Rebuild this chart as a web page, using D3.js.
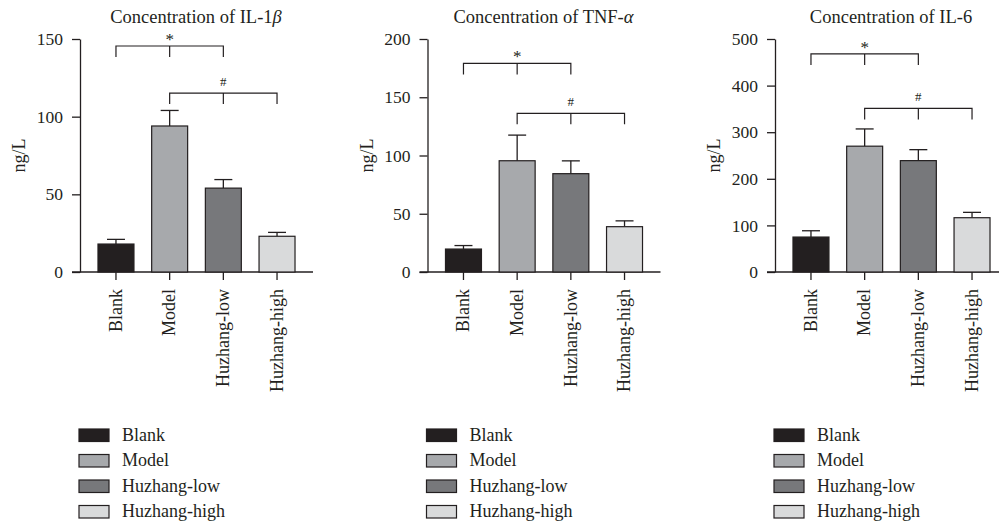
<!DOCTYPE html>
<html>
<head>
<meta charset="utf-8">
<script src="https://cdn.jsdelivr.net/npm/d3@7"></script>
<style>
  body { margin: 0; background: #fff; }
  svg text { font-family: "Liberation Serif", "DejaVu Serif", serif; fill: #231f20; }
</style>
</head>
<body>
<div id="chart"></div>
<script>
// groups and their fills
const groups = ["Blank", "Model", "Huzhang-low", "Huzhang-high"];
const fills = ["#231f20", "#a7a9ac", "#77787b", "#d9dadb"];

// IL-1beta
const il1bMean = [18, 94, 54, 23];
const il1bSd = [3, 10, 5.5, 2.5];
const il1bTicks = [0, 50, 100, 150];

// TNF-alpha
const tnfMean = [19.7, 95.5, 84.4, 38.9];
const tnfSd = [3, 22, 11, 5];
const tnfTicks = [0, 50, 100, 150, 200];

// IL-6
const il6Mean = [75, 270, 239, 116.5];
const il6Sd = [13.5, 37, 23.5, 11.5];
const il6Ticks = [0, 100, 200, 300, 400, 500];

// significance brackets: [from group, to group, level, mark]
const il1bSig = [[0, 2, 145.5, "*"], [1, 3, 115.2, "#"]];
const tnfSig = [[0, 2, 179, "*"], [1, 3, 136.2, "#"]];
const il6Sig = [[0, 2, 468, "*"], [1, 3, 351, "#"]];

const ink = "#231f20";

const svg = d3.select("#chart").append("svg")
    .attr("width", 999)
    .attr("height", 525);

/*
    Draws one bar panel with its axes, brackets and legend
*/
function drawPanel(left, title, mean, sd, ticks, sig) {
    const top = 39, bottom = 272;
    const g = svg.append("g").attr("transform", `translate(${left},0)`);

    const x = d3.scaleBand()
        .domain(groups)
        .range([0, 233])
        .paddingInner(0.33)
        .paddingOuter(0.335);

    const y = d3.scaleLinear()
        .domain([0, ticks[ticks.length - 1]])
        .range([bottom, top]);

    // title
    const t = g.append("text")
        .attr("x", 116)
        .attr("y", 23)
        .attr("text-anchor", "middle")
        .style("font-size", "18.5px")
        .text(title[0]);
    if (title[1]) {
        t.append("tspan").style("font-style", "italic").text(title[1]);
    }

    // y axis
    const yAxis = g.append("g")
        .call(d3.axisLeft(y).tickValues(ticks).tickSize(8).tickPadding(9).tickSizeOuter(0));
    yAxis.select(".domain").attr("stroke", ink).attr("stroke-width", 1.3);
    yAxis.selectAll(".tick line").attr("stroke", ink).attr("stroke-width", 1.3);
    yAxis.selectAll(".tick text")
        .style("font-size", "17.5px")
        .style("font-family", "Liberation Serif")
        .attr("fill", ink);

    g.append("text")
        .attr("transform", `translate(-60,${(top + bottom) / 2}) rotate(-90)`)
        .attr("text-anchor", "middle")
        .attr("dy", "0.3em")
        .style("font-size", "18px")
        .text("ng/L");

    // x axis
    const xAxis = g.append("g")
        .attr("transform", `translate(0,${bottom})`)
        .call(d3.axisBottom(x).tickSize(8).tickSizeOuter(0));
    xAxis.select(".domain").remove();
    xAxis.append("line")
        .attr("x1", -8).attr("x2", 233)
        .attr("stroke", ink).attr("stroke-width", 1.3);
    xAxis.selectAll(".tick line").attr("stroke", ink).attr("stroke-width", 1.3);
    xAxis.selectAll(".tick text")
        .attr("transform", "rotate(-90)")
        .attr("text-anchor", "end")
        .attr("x", -17)
        .attr("y", 0)
        .attr("dy", "0.32em")
        .style("font-size", "18px")
        .style("font-family", "Liberation Serif")
        .attr("fill", ink);

    // error bars
    const bw = x.bandwidth();
    const err = g.selectAll(".err")
        .data(groups)
        .enter().append("g")
        .attr("class", "err")
        .attr("stroke", ink)
        .attr("stroke-width", 1.3);
    err.append("line")
        .attr("x1", d => x(d) + bw / 2).attr("x2", d => x(d) + bw / 2)
        .attr("y1", (d, i) => y(mean[i])).attr("y2", (d, i) => y(mean[i] + sd[i]));
    err.append("line")
        .attr("x1", d => x(d) + bw / 4).attr("x2", d => x(d) + bw * 3 / 4)
        .attr("y1", (d, i) => y(mean[i] + sd[i])).attr("y2", (d, i) => y(mean[i] + sd[i]));

    // bars
    g.selectAll(".bar")
        .data(groups)
        .enter().append("rect")
        .attr("class", "bar")
        .attr("x", d => x(d))
        .attr("y", (d, i) => y(mean[i]))
        .attr("width", bw)
        .attr("height", (d, i) => y(0) - y(mean[i]))
        .attr("fill", (d, i) => fills[i])
        .attr("stroke", ink)
        .attr("stroke-width", 1.2);

    // brackets
    sig.forEach(s => {
        const x1 = x(groups[s[0]]) + bw / 2;
        const x2 = x(groups[s[1]]) + bw / 2;
        const yy = y(s[2]);
        const drop = 11;
        g.append("path")
            .attr("d", `M${x1},${yy + drop}V${yy}H${x2}V${yy + drop}M${(x1 + x2) / 2},${yy}V${yy + drop}`)
            .attr("fill", "none")
            .attr("stroke", ink)
            .attr("stroke-width", 1.2);
        const mark = g.append("text")
            .attr("x", (x1 + x2) / 2)
            .attr("text-anchor", "middle")
            .text(s[3]);
        if (s[3] === "*") {
            mark.attr("y", yy - 1).style("font-size", "17px");
        } else {
            mark.attr("y", yy - 7).style("font-size", "13px");
        }
    });

    // legend
    const leg = g.selectAll(".leg")
        .data(groups)
        .enter().append("g")
        .attr("class", "leg")
        .attr("transform", (d, i) => `translate(-1,${429 + i * 25.5})`);
    leg.append("rect")
        .attr("width", 30)
        .attr("height", 12.5)
        .attr("fill", (d, i) => fills[i])
        .attr("stroke", ink)
        .attr("stroke-width", 1.2);
    leg.append("text")
        .attr("x", 43)
        .attr("y", 11.5)
        .style("font-size", "18px")
        .text(d => d);
}

drawPanel(80, ["Concentration of IL-1", "β"], il1bMean, il1bSd, il1bTicks, il1bSig);
drawPanel(427.5, ["Concentration of TNF-", "α"], tnfMean, tnfSd, tnfTicks, tnfSig);
drawPanel(775, ["Concentration of IL-6"], il6Mean, il6Sd, il6Ticks, il6Sig);
</script>
</body>
</html>
